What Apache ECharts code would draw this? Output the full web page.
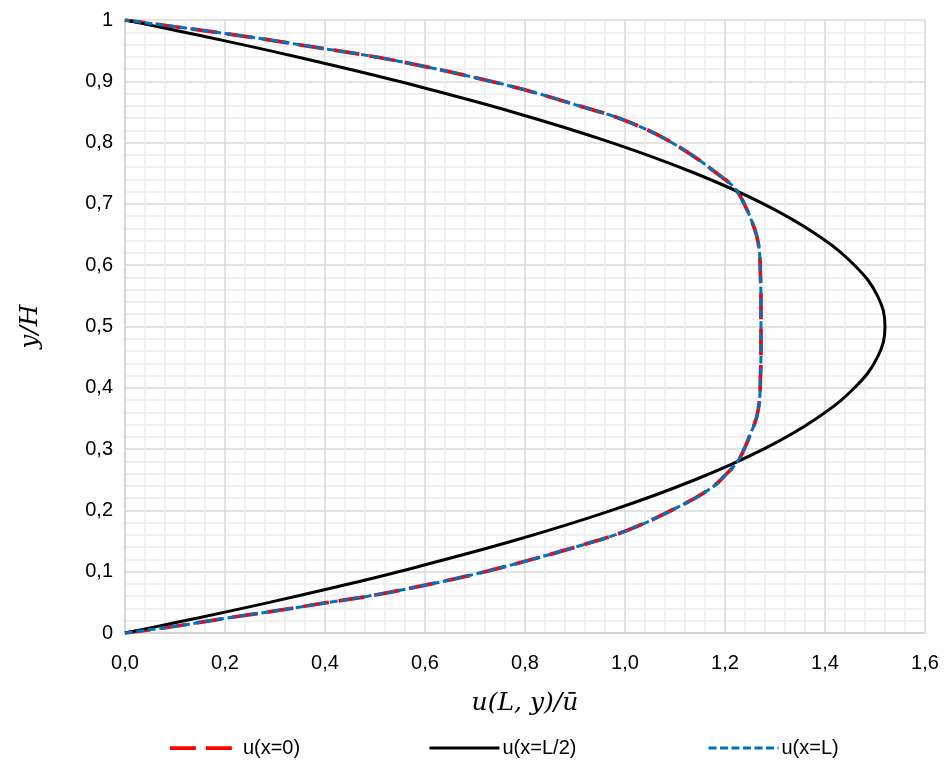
<!DOCTYPE html>
<html>
<head>
<meta charset="utf-8">
<script src="https://cdn.jsdelivr.net/npm/echarts@6/dist/echarts.min.js"></script>
<style>
html,body{margin:0;padding:0;background:#fff;}
#chart{width:944px;height:760px;}
</style>
</head>
<body>
<div id="chart"></div>
<script>
const seriesNames = ['u(x=0)', 'u(x=L/2)', 'u(x=L)'];

const xTickLabels = ['0,0','0,2','0,4','0,6','0,8','1,0','1,2','1,4','1,6'];
const yTickLabels = ['0','0,1','0,2','0,3','0,4','0,5','0,6','0,7','0,8','0,9','1'];

// u(x=0) : inlet profile
const uInlet = [0, 0.1, 0.2, 0.3, 0.4, 0.5, 0.6, 0.7, 0.8, 0.9, 1.0, 1.1, 1.17, 1.2, 1.226, 1.24, 1.251, 1.263, 1.269, 1.271, 1.272, 1.272, 1.271, 1.269, 1.263, 1.252, 1.239, 1.224, 1.2, 1.1, 1.0, 0.9, 0.8, 0.7, 0.6, 0.5, 0.4, 0.3, 0.2, 0.1, 0];
const yInlet = [0, 0.011, 0.024, 0.036, 0.049, 0.062, 0.078, 0.096, 0.117, 0.140, 0.166, 0.203, 0.235, 0.257, 0.281, 0.303, 0.325, 0.351, 0.38, 0.42, 0.46, 0.54, 0.58, 0.62, 0.649, 0.675, 0.699, 0.721, 0.740, 0.797, 0.836, 0.862, 0.886, 0.906, 0.924, 0.940, 0.953, 0.966, 0.978, 0.989, 1];

// u(x=L/2) : mid profile
const uMid = [0, 0.060, 0.148, 0.289, 0.422, 0.547, 0.775, 0.973, 1.140, 1.277, 1.383, 1.459, 1.505, 1.520, 1.505, 1.459, 1.383, 1.277, 1.140, 0.973, 0.775, 0.547, 0.422, 0.289, 0.148, 0.060, 0];
const yMid = [0, 0.01, 0.025, 0.05, 0.075, 0.1, 0.15, 0.2, 0.25, 0.3, 0.35, 0.4, 0.45, 0.5, 0.55, 0.6, 0.65, 0.7, 0.75, 0.8, 0.85, 0.9, 0.925, 0.95, 0.975, 0.99, 1];

// u(x=L) : outlet profile
const uOutlet = [0, 0.1, 0.2, 0.3, 0.4, 0.5, 0.6, 0.7, 0.8, 0.9, 1.0, 1.1, 1.17, 1.2, 1.226, 1.24, 1.251, 1.263, 1.269, 1.271, 1.272, 1.272, 1.271, 1.269, 1.263, 1.252, 1.239, 1.224, 1.2, 1.1, 1.0, 0.9, 0.8, 0.7, 0.6, 0.5, 0.4, 0.3, 0.2, 0.1, 0];
const yOutlet = [0, 0.011, 0.024, 0.036, 0.049, 0.062, 0.078, 0.096, 0.117, 0.140, 0.166, 0.203, 0.235, 0.257, 0.281, 0.303, 0.325, 0.351, 0.38, 0.42, 0.46, 0.54, 0.58, 0.62, 0.649, 0.675, 0.699, 0.721, 0.740, 0.797, 0.836, 0.862, 0.886, 0.906, 0.924, 0.940, 0.953, 0.966, 0.978, 0.989, 1];

function pairs(u, y) { return u.map((v, i) => [v, y[i]]); }

const labelFont = 'Liberation Sans, Arial, sans-serif';
const titleFont = 'DejaVu Serif, serif';
const seriesColors = ['#ff0000', '#000000', '#0070c0'];
const seriesWidths = [3.75, 3, 3];
const seriesDash = [[26, 10], 'solid', [8, 3.5]];
const legendLefts = [163, 423, 702];

const chart = echarts.init(document.getElementById('chart'), null, {renderer: 'canvas'});
chart.setOption({
  animation: false,
  backgroundColor: '#ffffff',
  grid: {left: 125, right: 19, top: 20, bottom: 127, containLabel: false},
  xAxis: {
    type: 'value', min: 0, max: 1.6, interval: 0.2,
    name: 'u(L, y)/ū', nameLocation: 'middle', nameGap: 58,
    nameTextStyle: {fontFamily: titleFont, fontStyle: 'italic', fontSize: 25, color: '#000'},
    axisLine: {show: true, lineStyle: {color: '#d0d0d0', width: 1.5}},
    axisTick: {show: false},
    axisLabel: {margin: 20, fontSize: 20, fontFamily: labelFont, color: '#000',
      formatter: v => xTickLabels[Math.round(v / 0.2)]},
    splitLine: {show: true, lineStyle: {color: '#d9d9d9', width: 1.5}},
    minorTick: {show: false, splitNumber: 5},
    minorSplitLine: {show: true, lineStyle: {color: '#ededed', width: 1.5}}
  },
  yAxis: {
    type: 'value', min: 0, max: 1, interval: 0.1,
    name: 'y/H', nameLocation: 'middle', nameGap: 82, nameRotate: 90,
    nameTextStyle: {fontFamily: titleFont, fontStyle: 'italic', fontSize: 25, color: '#000'},
    axisLine: {show: true, lineStyle: {color: '#d0d0d0', width: 1.5}},
    axisTick: {show: false},
    axisLabel: {margin: 12, fontSize: 20, fontFamily: labelFont, color: '#000',
      formatter: v => yTickLabels[Math.round(v * 10)]},
    splitLine: {show: true, lineStyle: {color: '#d9d9d9', width: 1.5}},
    minorTick: {show: false, splitNumber: 5},
    minorSplitLine: {show: true, lineStyle: {color: '#ededed', width: 1.5}}
  },
  legend: seriesNames.map((n, i) => ({
    left: legendLefts[i], top: 733, itemWidth: 70, itemHeight: 16,
    textStyle: {fontSize: 20, fontFamily: labelFont, color: '#000', padding: [0, 0, 0, -2]},
    itemStyle: {color: 'rgba(0,0,0,0)', borderWidth: 0, opacity: 0},
    lineStyle: {width: seriesWidths[i]},
    data: [n]
  })),
  series: seriesNames.map((n, i) => ({
    name: n, type: 'line',
    data: [pairs(uInlet, yInlet), pairs(uMid, yMid), pairs(uOutlet, yOutlet)][i],
    smooth: 0.4, showSymbol: false, symbol: 'none',
    lineStyle: {color: seriesColors[i], width: seriesWidths[i], type: seriesDash[i]},
    itemStyle: {color: seriesColors[i]},
    z: [2, 3, 4][i]
  }))
});
</script>
</body>
</html>
